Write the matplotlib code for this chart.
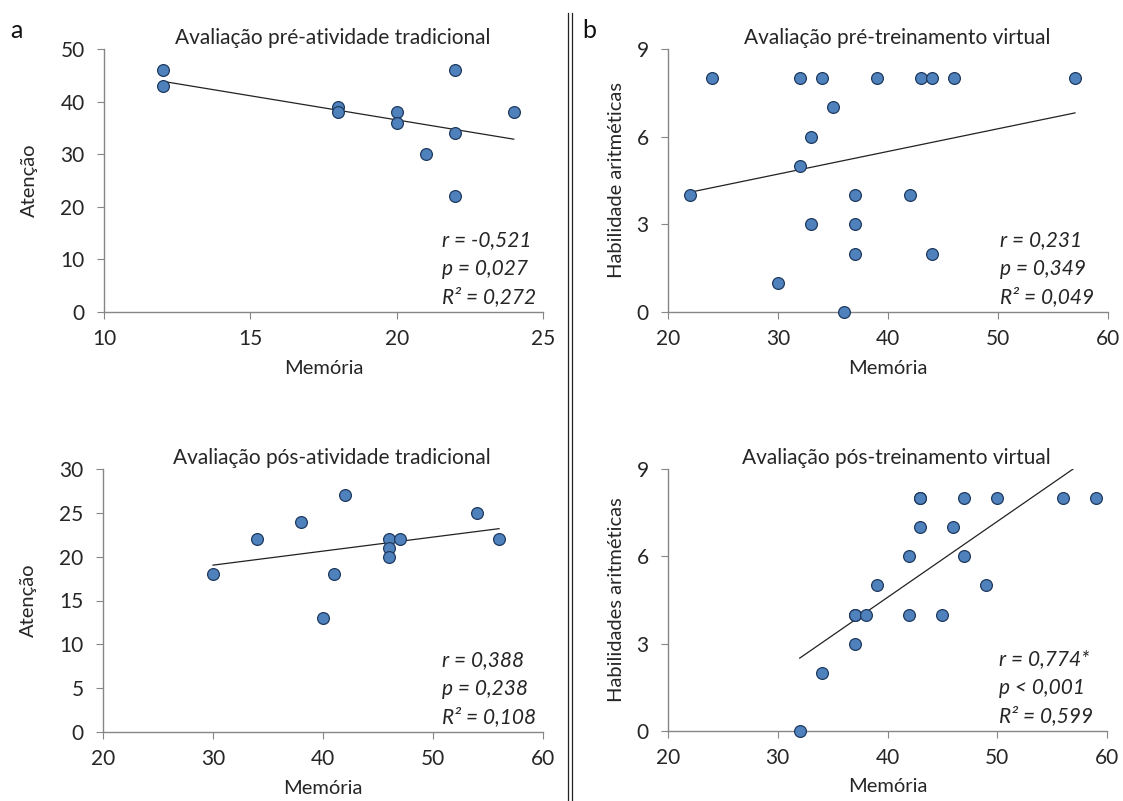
import numpy as np
import matplotlib
matplotlib.use("Agg")
import matplotlib.pyplot as plt
from matplotlib.lines import Line2D

plt.rcParams['font.family'] = ['Lato', 'DejaVu Sans']

# Panel a (top): pré-atividade tradicional
a1_mem = [12, 12, 18, 18, 20, 20, 22, 22, 21, 22, 24]
a1_ate = [46, 43, 39, 38, 38, 36, 46, 34, 30, 22, 38]
# Panel a (bottom): pós-atividade tradicional
a2_mem = [30, 34, 38, 42, 41, 40, 46, 46, 46, 47, 54, 56]
a2_ate = [18, 22, 24, 27, 18, 13, 22, 21, 20, 22, 25, 22]
# Panel b (top): pré-treinamento virtual
b1_mem = [24, 22, 32, 34, 39, 43, 44, 46, 57, 35, 33, 32, 37, 42, 33, 37, 37, 44, 30, 36]
b1_hab = [8, 4, 8, 8, 8, 8, 8, 8, 8, 7, 6, 5, 4, 4, 3, 3, 2, 2, 1, 0]
# Panel b (bottom): pós-treinamento virtual
b2_mem = [32, 34, 37, 37, 37, 38, 39, 42, 42, 43, 43, 43, 45, 46, 47, 47, 49, 50, 56, 59]
b2_hab = [0, 2, 3, 4, 4, 4, 5, 4, 6, 7, 8, 8, 4, 7, 8, 6, 5, 8, 8, 8]

titles = ["Avaliação pré-atividade tradicional", "Avaliação pós-atividade tradicional",
          "Avaliação pré-treinamento virtual", "Avaliação pós-treinamento virtual"]
ylabels = ["Atenção", "Atenção", "Habilidade aritméticas", "Habilidades aritméticas"]
stats = [["r = -0,521", "p = 0,027", "R² = 0,272"],
         ["r = 0,388", "p = 0,238", "R² = 0,108"],
         ["r = 0,231", "p = 0,349", "R² = 0,049"],
         ["r = 0,774*", "p < 0,001", "R² = 0,599"]]

W, H = 1123, 801
fig = plt.figure(figsize=(W / 100, H / 100), dpi=100)

def axpos(l, r, t, b):
    return [l / W, (H - b) / H, (r - l) / W, (b - t) / H]

specs = [
    (axpos(104, 543, 49, 312), a1_mem, a1_ate, (10, 25), 5, (0, 50), 10),
    (axpos(103, 543, 469, 732), a2_mem, a2_ate, (20, 60), 10, (0, 30), 5),
    (axpos(668, 1108, 49, 312), b1_mem, b1_hab, (20, 60), 10, (0, 9), 3),
    (axpos(668, 1107, 469, 731), b2_mem, b2_hab, (20, 60), 10, (0, 9), 3),
]

gray = "#868686"
txt = "#262626"
for i, (pos, xs, ys, xl, xs_step, yl, ys_step) in enumerate(specs):
    ax = fig.add_axes(pos)
    ax.set_xlim(*xl)
    ax.set_ylim(*yl)
    ax.set_xticks(np.arange(xl[0], xl[1] + 0.1, xs_step))
    ax.set_yticks(np.arange(yl[0], yl[1] + 0.1, ys_step))
    for s in ["top", "right"]:
        ax.spines[s].set_visible(False)
    for s in ["left", "bottom"]:
        ax.spines[s].set_color(gray)
        ax.spines[s].set_linewidth(1.0)
    ax.tick_params(direction="out", length=5, color=gray, labelsize=15,
                   labelcolor=txt)
    ax.tick_params(axis="y", pad=9)
    ax.tick_params(axis="x", pad=7)
    xs_a = np.array(xs, float)
    ys_a = np.array(ys, float)
    m, c = np.polyfit(xs_a, ys_a, 1)
    xx = np.array([xs_a.min(), xs_a.max()])
    ax.plot(xx, m * xx + c, color="#222222", lw=0.9, zorder=2)
    ax.scatter(xs_a, ys_a, s=72, color="#4F81BD", edgecolor="#1F3A5F",
               linewidth=0.9, zorder=3, clip_on=False)
    ax.set_xlabel("Memória", fontsize=14.5, color=txt)
    ax.xaxis.set_label_coords(0.5, -0.213)
    ax.xaxis.label.set_va("center")
    ax.set_ylabel(ylabels[i], fontsize=14.5, color=txt)
    ax.yaxis.set_label_coords(-0.169 if i < 2 else -0.118, 0.5)
    ax.yaxis.label.set_va("center")
    ax.text(0.52, 1.042, titles[i], transform=ax.transAxes, ha="center",
            va="center", fontsize=15, color=txt)
    for j, line in enumerate(stats[i]):
        ax.text(0.77 if i < 2 else 0.755, [0.274, 0.165, 0.058][j], line,
                transform=ax.transAxes, fontsize=15, style="italic",
                va="center", ha="left", color=txt)

fig.text(10 / W, 1 - 31 / H, "a", fontsize=18, va="center", ha="left", color="#111111")
fig.text(582 / W, 1 - 31 / H, "b", fontsize=18, va="center", ha="left", color="#111111")
for xline in [567.5, 572.0]:
    fig.add_artist(Line2D([xline / W, xline / W], [0, 1 - 13 / H],
                          color="#222222", lw=0.9, transform=fig.transFigure))

fig.savefig("out.png", dpi=100, facecolor="white")
